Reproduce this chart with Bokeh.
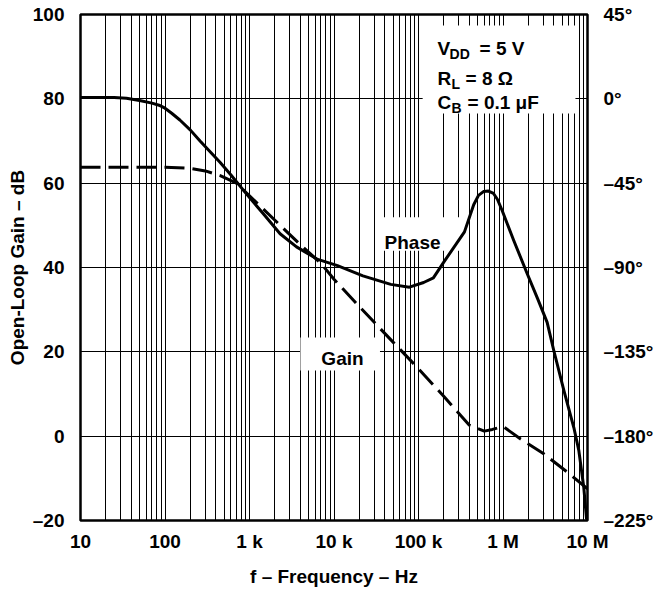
import math
from bokeh.plotting import figure
from bokeh.models import Range1d, LinearAxis, FixedTicker, Label, BoxAnnotation
from bokeh.embed import file_html
from bokeh.resources import INLINE

# ---------------- data ----------------
freq_gain = [10, 50, 100, 200, 300, 450, 700, 1000, 2000, 4000, 7000, 10000,
             20000, 50000, 100000, 200000, 400000, 600000, 750000, 1000000,
             1600000, 3000000, 6000000, 10000000]
gain_db = [63.8, 63.8, 63.8, 63.5, 62.9, 61.8, 60.0, 57.0, 51.2, 45.4, 41.0, 37.2,
           30.7, 22.3, 16.0, 9.4, 2.6, 1.2, 1.6, 2.3,
           -0.6, -4.1, -8.8, -12.5]

freq_phase = [10, 25, 35, 50, 70, 85, 100, 120, 150, 200, 260, 450, 600, 930, 1500,
              2300, 3600, 6300, 11000, 22000, 47000, 78000, 115000, 150000, 200000,
              350000, 450000, 513000, 587000, 673000, 772000, 861000, 977000,
              1340000, 1930000, 2560000, 3330000, 3990000, 5250000, 6890000,
              7890000, 9040000, 9730000, 10000000]
phase_deg = [0.7, 0.7, 0.3, -0.9, -2.3, -3.4, -5.0, -7.7, -11.3, -16.7, -22.5, -34.0,
             -40.5, -51.0, -62.0, -72.0, -79.0, -85.5, -89.0, -94.5, -99.0, -100.5,
             -98.0, -95.5, -87.0, -71.0, -56.5, -51.5, -49.5, -49.2, -50.5, -53.7,
             -59.6, -75.6, -93.2, -106.5, -119.3, -134.3, -155.6, -175.4, -187.6,
             -207.4, -223.9, -225.0]

x_ticks = [10, 100, 1000, 10000, 100000, 1000000, 10000000]
x_tick_labels = ["10", "100", "1 k", "10 k", "100 k", "1 M", "10 M"]
gain_ticks = [-20, 0, 20, 40, 60, 80, 100]
gain_tick_labels = ["\u201320", "0", "20", "40", "60", "80", "100"]
phase_ticks = [-225, -180, -135, -90, -45, 0, 45]
phase_tick_labels = ["\u2013225\u00b0", "\u2013180\u00b0", "\u2013135\u00b0",
                     "\u201390\u00b0", "\u201345\u00b0", "0\u00b0", "45\u00b0"]

FONT = "Liberation Sans"
FS = "19px"

minor_x = [m * 10 ** k for k in range(1, 7) for m in range(2, 10)]

p = figure(x_axis_type="log", x_range=Range1d(10, 1e7), y_range=Range1d(-20, 100),
           frame_width=507, frame_height=506,
           min_border_left=80, min_border_right=79, min_border_top=14, min_border_bottom=68,
           output_backend="svg", toolbar_location=None,
           background_fill_color="white", border_fill_color="white")

p.extra_y_ranges = {"phase": Range1d(-225, 45)}

# grids
p.xgrid.ticker = FixedTicker(ticks=x_ticks, minor_ticks=minor_x)
p.xgrid.grid_line_color = "black"
p.xgrid.grid_line_width = 1
p.xgrid.minor_grid_line_color = "black"
p.xgrid.minor_grid_line_width = 1
p.ygrid.ticker = FixedTicker(ticks=gain_ticks)
p.ygrid.grid_line_color = "black"
p.ygrid.grid_line_width = 1

p.outline_line_color = "black"
p.outline_line_width = 2.5

# axes
xa = p.xaxis[0]
xa.ticker = FixedTicker(ticks=x_ticks, minor_ticks=[])
xa.major_label_overrides = dict(zip(x_ticks, x_tick_labels))
xa.axis_label = "f \u2013 Frequency \u2013 Hz"
xa.major_label_standoff = 4
xa.axis_label_standoff = 11

ya = p.yaxis[0]
ya.ticker = FixedTicker(ticks=gain_ticks, minor_ticks=[])
ya.major_label_overrides = dict(zip(gain_ticks, gain_tick_labels))
ya.axis_label = "Open-Loop Gain \u2013 dB"
ya.major_label_standoff = 10
ya.axis_label_standoff = 2

ra = LinearAxis(y_range_name="phase",
                ticker=FixedTicker(ticks=phase_ticks, minor_ticks=[]),
                major_label_overrides=dict(zip(phase_ticks, phase_tick_labels)))
p.add_layout(ra, "right")
ra.major_label_standoff = 10

for ax in (xa, ya, ra):
    ax.axis_line_color = None
    ax.major_tick_line_color = None
    ax.minor_tick_line_color = None
    ax.major_label_text_font = FONT
    ax.major_label_text_font_style = "bold"
    ax.major_label_text_font_size = FS
    ax.major_label_text_color = "black"
    ax.axis_label_text_font = FONT
    ax.axis_label_text_font_style = "bold"
    ax.axis_label_text_font_size = FS
    ax.axis_label_text_color = "black"

# curves
p.line(freq_gain, gain_db, line_color="black", line_width=3, line_dash="20 8")
p.line(freq_phase, phase_deg, y_range_name="phase", line_color="black", line_width=3,
       line_join="round")

# white label boxes
def box(l, r, b, t):
    p.add_layout(BoxAnnotation(left=l, right=r, bottom=b, top=t, fill_color="white",
                               fill_alpha=1, line_color=None, level="underlay"))

box(1.12e5, 7.2e6, 76.5, 97.4)     # condition box
box(3.1e4, 3.1e5, 44.0, 51.9)      # Phase
box(4.0e3, 3.5e4, 15.6, 23.4)      # Gain

def lab(x, y, text, dx=0, dy=0, size=FS, align="left", style="bold"):
    p.add_layout(Label(x=x, y=y, text=text, x_offset=dx, y_offset=dy,
                       text_font=FONT, text_font_style=style, text_font_size=size,
                       text_align=align, text_baseline="alphabetic", text_color="black"))

lab(8.5e4, 45.9, "Phase", align="center")
lab(1.26e4, 18.4, "Gain", align="center")

ax0 = 1.68e5
lab(ax0, 91.9, "V")
lab(ax0, 91.9, "DD", dx=12, dy=-5, size="14px")
lab(ax0, 91.9, "= 5 V", dx=42)
lab(ax0, 84.8, "R")
lab(ax0, 84.8, "L", dx=14, dy=-5, size="14px")
lab(ax0, 84.8, "= 8 \u03a9", dx=28)
lab(ax0, 79.1, "C")
lab(ax0, 79.1, "B", dx=14, dy=-5, size="14px")
lab(ax0, 79.1, "= 0.1 \u03bcF", dx=30)

# right axis title, reading bottom to top
p.add_layout(Label(x=1e7, y=41.7, x_offset=69, text="Phase", angle=math.pi / 2,
                   text_font=FONT, text_font_style="bold", text_font_size=FS,
                   text_align="center", text_baseline="middle", text_color="black"))

open("out.html", "w").write(file_html(p, INLINE))
